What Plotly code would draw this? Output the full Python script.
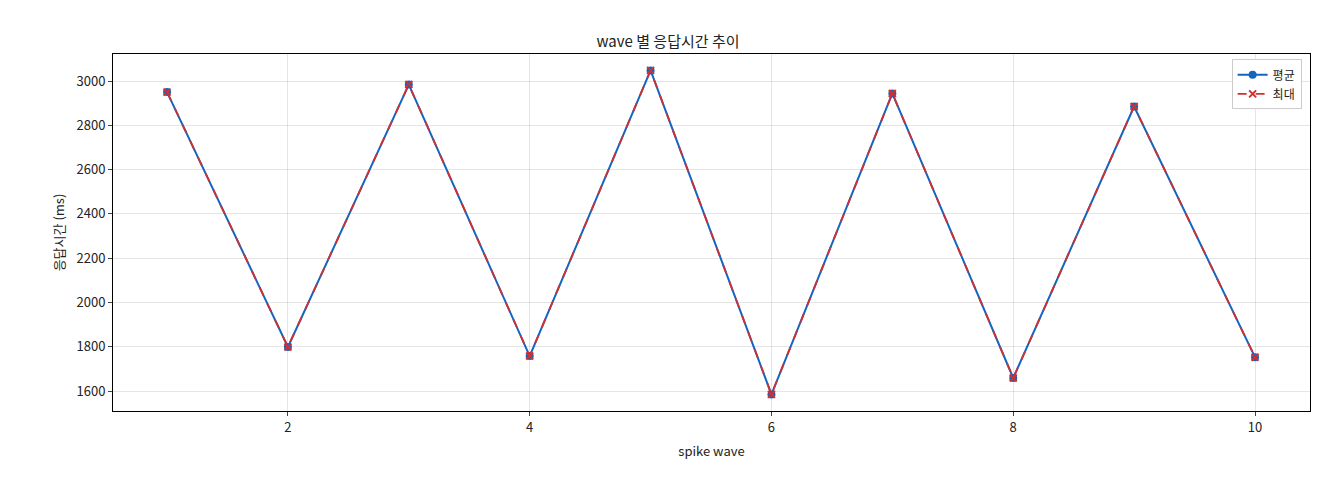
import plotly.graph_objects as go

waves = [1, 2, 3, 4, 5, 6, 7, 8, 9, 10]
avg_ms = [2950, 1799, 2984, 1758, 3048, 1585, 2944, 1659, 2885, 1753]
max_ms = [2950, 1799, 2984, 1758, 3048, 1585, 2944, 1659, 2885, 1753]

F = "Noto Sans CJK KR"
fig = go.Figure()
fig.add_trace(go.Scatter(x=waves, y=avg_ms, name="평균", mode="lines+markers",
                         line=dict(color="#1565c0", width=2), marker=dict(symbol="circle", size=8, color="#1565c0")))
fig.add_trace(go.Scatter(x=waves, y=max_ms, name="최대", mode="lines+markers",
                         line=dict(color="#d32f2f", width=1.8, dash="dash"), marker=dict(symbol="x-thin", size=7, line=dict(color="#d32f2f", width=2))))
ax = dict(showline=True, linecolor="black", mirror=True, ticks="outside", ticklen=4,
          gridcolor="rgba(0,0,0,0.1)", zeroline=False, tickfont=dict(size=13, color="#222"))
fig.update_layout(
    width=1320, height=480, margin=dict(l=105, r=18, t=46, b=77),
    plot_bgcolor="white", paper_bgcolor="white", font=dict(family=F, color="#222"),
    title=dict(text="wave 별 응답시간 추이", x=0.5, xanchor="center", y=0.94, font=dict(size=15)),
    xaxis=dict(ax, range=[0.553, 10.455], tickvals=[2, 4, 6, 8, 10],
               title=dict(text="spike wave", font=dict(size=13), standoff=12)),
    yaxis=dict(ax, range=[1510, 3122], dtick=200,
               title=dict(text="응답시간 (ms)", font=dict(size=13), standoff=8)),
    legend=dict(x=0.993, y=0.985, xanchor="right", yanchor="top", bordercolor="#ccc", borderwidth=1,
                bgcolor="white", font=dict(size=12)),
)
fig.write_html("out.html")
